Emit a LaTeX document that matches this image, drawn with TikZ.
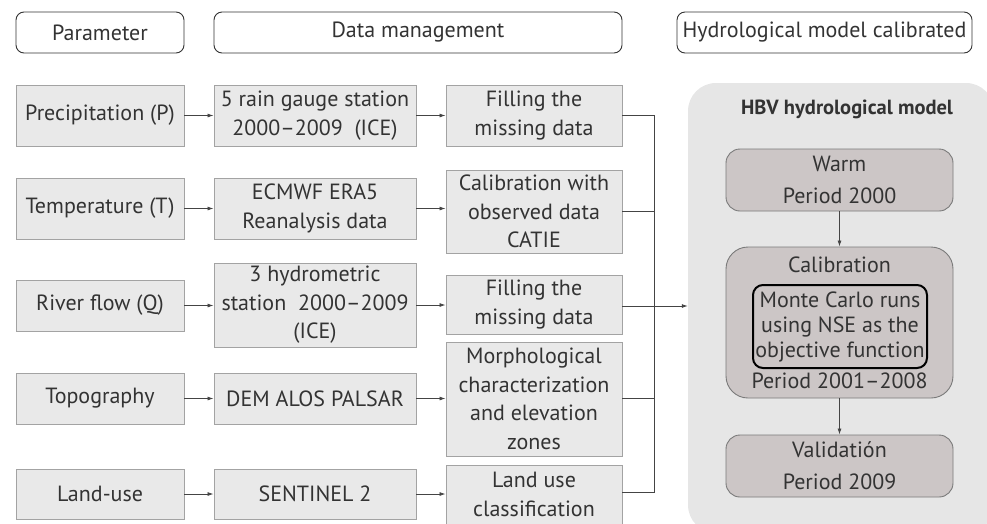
\documentclass[tikz,border=0pt]{standalone}
\usepackage{fontspec}
\setmainfont{PT Sans}
\usetikzlibrary{arrows.meta,calc}
\definecolor{txt}{HTML}{333333}
\definecolor{boxfill}{HTML}{E9E9E9}
\definecolor{boxdraw}{HTML}{A3A3A3}
\definecolor{modfill}{HTML}{CCC6C6}
\definecolor{moddraw}{HTML}{7A7A7A}
\definecolor{hbvfill}{HTML}{E6E6E6}
\definecolor{linec}{HTML}{444444}
\tikzset{
  header/.style={draw=txt, line width=0.9pt, rounded corners=8pt, fill=white, minimum height=41pt, inner sep=0pt, text=txt, font=\fontsize{22}{26}\selectfont},
  stepbox/.style={draw=boxdraw, line width=0.9pt, fill=boxfill, inner sep=0pt, align=center, text=txt, font=\fontsize{22}{28.5}\selectfont},
  modbox/.style={draw=moddraw, line width=0.9pt, fill=modfill, rounded corners=14pt, inner sep=0pt, text=txt, font=\fontsize{22}{32}\selectfont, align=center},
  conn/.style={draw=linec, line width=0.8pt},
  arr/.style={conn, -{Latex[length=6pt,width=4pt]}},
}
\begin{document}
\begin{tikzpicture}[x=1pt,y=-1pt]
\useasboundingbox (0,0) rectangle (987,523);
\begin{scope}
\clip (0,0) rectangle (987,523);
% headers
\node[header, minimum width=168pt] (hp) at (100,32.5) {Parameter};
\node[header, minimum width=408pt] (hd) at (418,32.5) {Data management};
\node[header, minimum width=295pt] (hh) at (824.5,32.5) {Hydrological model calibrated};
% HBV background
\node[fill=hbvfill, rounded corners=28pt, minimum width=306pt, minimum height=450pt, inner sep=0pt] (hbv) at (841,308) {};
\node[font=\fontsize{20.5}{24}\selectfont\bfseries, text=txt] (hbvt) at (847,109) {HBV hydrological model};
% column 1
\node[stepbox, minimum width=168pt, minimum height=61pt] (p1) at (100,115.5) {Precipitation (P)};
\node[stepbox, minimum width=168pt, minimum height=61pt] (p2) at (100,208.5) {Temperature (T)};
\node[stepbox, minimum width=168pt, minimum height=51pt] (p3) at (100,305.5) {River flow (Q)};
\node[stepbox, minimum width=168pt, minimum height=51pt] (p4) at (100,398.5) {Topography};
\node[stepbox, minimum width=168pt, minimum height=50pt] (p5) at (100,494) {Land-use};
% column 2
\node[stepbox, minimum width=202pt, minimum height=61pt] (d1) at (315,115.5) {5 rain gauge station\\2000–2009\ \ (ICE)};
\node[stepbox, minimum width=202pt, minimum height=61pt] (d2) at (315,208.5) {ECMWF ERA5\\Reanalysis data};
\node[stepbox, minimum width=202pt, minimum height=84pt] (d3) at (315,305) {3 hydrometric\\station\ \ 2000–2009\\(ICE)};
\node[stepbox, minimum width=202pt, minimum height=51pt] (d4) at (315,398.5) {DEM ALOS PALSAR};
\node[stepbox, minimum width=202pt, minimum height=50pt] (d5) at (315,494) {SENTINEL 2};
% column 3
\node[stepbox, minimum width=176pt, minimum height=61pt] (f1) at (534,115.5) {Filling the\\missing data};
\node[stepbox, minimum width=176pt, minimum height=83pt] (f2) at (534,211.5) {Calibration with\\observed data\\CATIE};
\node[stepbox, minimum width=176pt, minimum height=59pt] (f3) at (534,304.5) {Filling the\\missing data};
\node[stepbox, minimum width=176pt, minimum height=114pt] (f4) at (534,399) {Morphological\\characterization\\and elevation\\zones};
\node[stepbox, minimum width=176pt, minimum height=59pt] (f5) at (534,494.5) {Land use\\classification};
% model boxes
\node[modbox, minimum width=227pt, minimum height=62pt] (warm) at (839.5,180) {Warm\\Period 2000};
\node[modbox, minimum width=227pt, minimum height=151pt, rounded corners=22pt] (cal) at (839.5,322.5) {};
\node[font=\fontsize{22}{26}\selectfont, text=txt] (calt) at (839.5,265) {Calibration};
\node[font=\fontsize{22}{26}\selectfont, text=txt] (calp) at (839.5,381) {Period 2001–2008};
\node[draw=black, line width=2pt, rounded corners=10pt, minimum width=174pt, minimum height=83pt, inner sep=0pt, align=center, text=txt, font=\fontsize{22}{25}\selectfont] (mc) at (840,326.5) {Monte Carlo runs\\using NSE as the\\objective function};
\node[modbox, minimum width=227pt, minimum height=62pt] (val) at (839.5,466) {Validatión\\Period 2009};
% arrows
\foreach \i in {1,...,5}{
  \draw[arr] (p\i.east) -- (p\i.east -| d\i.west);
  \draw[arr] (d\i.east) -- (d\i.east -| f\i.west);
}
\coordinate (bus1) at (654,115);
\coordinate (bus5) at (654,492);
\coordinate (busm) at (654,306);
\draw[conn] (f1.east |- bus1) -- (bus1) -- (bus5) -- (f5.east |- bus5);
\draw[conn] (f2.east) ++(0,-0.5) -- (654,211);
\draw[conn] (f3.east |- busm) -- (busm);
\draw[conn] (f4.east |- 0,398) -- (654,398);
\draw[arr] (busm) -- (busm -| hbv.west);
\draw[arr] (warm.south) -- (cal.north);
\draw[arr] (cal.south) -- (val.north);
\end{scope}
\end{tikzpicture}
\end{document}
